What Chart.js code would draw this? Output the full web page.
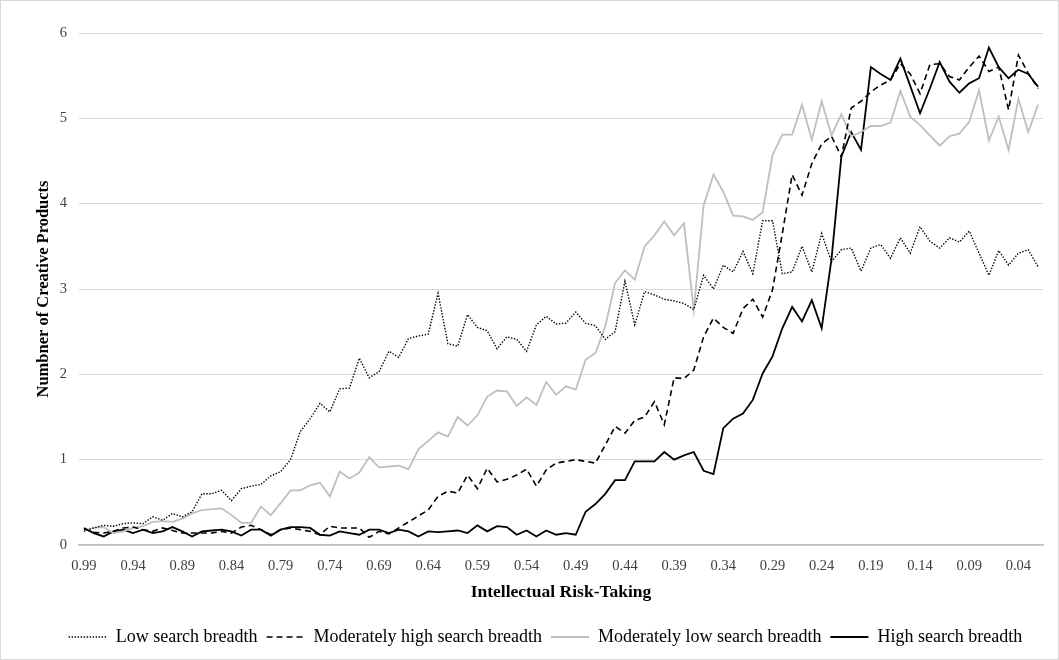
<!DOCTYPE html>
<html>
<head>
<meta charset="utf-8">
<title>Creative products by intellectual risk-taking</title>
<script src="https://cdn.jsdelivr.net/npm/chart.js@4.4.1/dist/chart.umd.min.js"></script>
<style>
  html, body { margin: 0; padding: 0; background: #fff; }
  #wrap { width: 1059px; height: 660px; position: relative; }
</style>
</head>
<body>
<div id="wrap"><canvas id="chart" width="1059" height="660"></canvas></div>
<script>
// Risk-taking levels, from 0.99 down to 0.02
const categories = [
  '0.99','0.98','0.97','0.96','0.95','0.94','0.93','0.92','0.91','0.90',
  '0.89','0.88','0.87','0.86','0.85','0.84','0.83','0.82','0.81','0.80',
  '0.79','0.78','0.77','0.76','0.75','0.74','0.73','0.72','0.71','0.70',
  '0.69','0.68','0.67','0.66','0.65','0.64','0.63','0.62','0.61','0.60',
  '0.59','0.58','0.57','0.56','0.55','0.54','0.53','0.52','0.51','0.50',
  '0.49','0.48','0.47','0.46','0.45','0.44','0.43','0.42','0.41','0.40',
  '0.39','0.38','0.37','0.36','0.35','0.34','0.33','0.32','0.31','0.30',
  '0.29','0.28','0.27','0.26','0.25','0.24','0.23','0.22','0.21','0.20',
  '0.19','0.18','0.17','0.16','0.15','0.14','0.13','0.12','0.11','0.10',
  '0.09','0.08','0.07','0.06','0.05','0.04','0.03','0.02'
];

// Every fifth level gets a label on the horizontal axis
const tickLabels = [
  '0.99','0.94','0.89','0.84','0.79','0.74','0.69','0.64','0.59','0.54',
  '0.49','0.44','0.39','0.34','0.29','0.24','0.19','0.14','0.09','0.04'
];

const yTicks = [0, 1, 2, 3, 4, 5, 6];

const lowBreadth = [
  0.16,0.20,0.23,0.22,0.25,0.26,0.25,0.33,0.29,0.37,
  0.33,0.39,0.60,0.60,0.64,0.52,0.66,0.69,0.71,0.81,
  0.86,1.00,1.33,1.48,1.66,1.56,1.83,1.84,2.19,1.96,
  2.03,2.27,2.20,2.42,2.45,2.47,2.95,2.36,2.33,2.70,
  2.55,2.51,2.30,2.44,2.41,2.27,2.58,2.68,2.59,2.60,
  2.73,2.60,2.57,2.41,2.50,3.09,2.58,2.97,2.93,2.88,
  2.86,2.83,2.76,3.16,3.00,3.28,3.20,3.44,3.18,3.80,
  3.80,3.18,3.20,3.50,3.20,3.65,3.32,3.46,3.48,3.21,
  3.48,3.52,3.36,3.60,3.42,3.73,3.56,3.48,3.60,3.55,
  3.68,3.42,3.16,3.45,3.28,3.42,3.46,3.26
];

const modHighBreadth = [
  0.19,0.15,0.14,0.16,0.20,0.21,0.18,0.16,0.20,0.17,
  0.14,0.14,0.14,0.14,0.16,0.14,0.21,0.23,0.18,0.12,
  0.18,0.20,0.18,0.16,0.12,0.22,0.20,0.20,0.20,0.09,
  0.16,0.13,0.20,0.27,0.34,0.41,0.57,0.63,0.61,0.82,
  0.66,0.90,0.74,0.77,0.82,0.89,0.69,0.88,0.96,0.98,
  1.00,0.98,0.96,1.17,1.39,1.31,1.46,1.50,1.68,1.41,
  1.96,1.95,2.05,2.44,2.66,2.55,2.48,2.77,2.88,2.67,
  2.99,3.65,4.34,4.10,4.47,4.70,4.79,4.55,5.12,5.20,
  5.31,5.39,5.45,5.64,5.52,5.29,5.63,5.64,5.49,5.45,
  5.60,5.73,5.55,5.60,5.10,5.74,5.53,5.35
];

const modLowBreadth = [
  0.17,0.20,0.21,0.14,0.16,0.20,0.22,0.27,0.28,0.27,
  0.31,0.37,0.41,0.42,0.43,0.35,0.26,0.26,0.45,0.35,
  0.49,0.64,0.64,0.70,0.73,0.57,0.86,0.78,0.85,1.03,
  0.91,0.92,0.93,0.89,1.12,1.22,1.32,1.27,1.50,1.40,
  1.52,1.74,1.81,1.80,1.63,1.73,1.64,1.91,1.76,1.86,
  1.82,2.17,2.25,2.56,3.07,3.22,3.11,3.50,3.63,3.79,
  3.63,3.77,2.75,3.98,4.34,4.14,3.86,3.85,3.81,3.90,
  4.57,4.81,4.81,5.16,4.75,5.20,4.80,5.05,4.79,4.84,
  4.91,4.91,4.95,5.32,5.02,4.92,4.80,4.68,4.79,4.82,
  4.96,5.33,4.74,5.02,4.63,5.23,4.84,5.16
];

const highBreadth = [
  0.20,0.14,0.10,0.16,0.18,0.14,0.18,0.14,0.16,0.21,
  0.16,0.10,0.16,0.17,0.18,0.16,0.11,0.18,0.18,0.11,
  0.18,0.21,0.21,0.20,0.12,0.11,0.16,0.14,0.12,0.18,
  0.18,0.14,0.18,0.16,0.10,0.16,0.15,0.16,0.17,0.14,
  0.23,0.16,0.22,0.21,0.12,0.17,0.10,0.17,0.12,0.14,
  0.12,0.39,0.48,0.60,0.76,0.76,0.98,0.98,0.98,1.09,
  1.00,1.05,1.09,0.87,0.83,1.37,1.48,1.54,1.70,2.01,
  2.21,2.54,2.79,2.62,2.87,2.54,3.35,4.55,4.84,4.63,
  5.60,5.52,5.45,5.70,5.38,5.06,5.35,5.66,5.43,5.30,
  5.41,5.47,5.83,5.60,5.47,5.57,5.52,5.37
];

const seriesNames = [
  'Low search breadth',
  'Moderately high search breadth',
  'Moderately low search breadth',
  'High search breadth'
];

const serif = '"Liberation Serif", "Times New Roman", serif';

// White background and thin frame around the whole chart
const framePlugin = {
  id: 'frame',
  beforeDraw(chart) {
    const { ctx, width, height } = chart;
    ctx.save();
    ctx.fillStyle = '#ffffff';
    ctx.fillRect(0, 0, width, height);
    ctx.restore();
  },
  afterDraw(chart) {
    const { ctx, width, height } = chart;
    ctx.save();
    ctx.strokeStyle = '#d9d9d9';
    ctx.lineWidth = 1;
    ctx.strokeRect(0.5, 0.5, width - 1, height - 1);
    ctx.restore();
  }
};

// Centre the legend row a little right of the canvas middle
const legendShift = 24;
const legendOffsetPlugin = {
  id: 'legendOffset',
  afterLayout(chart) {
    if (chart.legend) {
      chart.legend.left += legendShift;
      chart.legend.right += legendShift;
    }
  }
};

const common = { pointRadius: 0, pointHoverRadius: 0, tension: 0, fill: false, pointStyle: 'line' };

new Chart(document.getElementById('chart'), {
  type: 'line',
  data: {
    labels: categories,
    datasets: [
      Object.assign({ label: seriesNames[0], data: lowBreadth,
        borderColor: '#000000', borderWidth: 1.4, borderDash: [1.4, 1.6] }, common),
      Object.assign({ label: seriesNames[1], data: modHighBreadth,
        borderColor: '#000000', borderWidth: 1.6, borderDash: [6, 4] }, common),
      Object.assign({ label: seriesNames[2], data: modLowBreadth,
        borderColor: '#bfbfbf', borderWidth: 1.8 }, common),
      Object.assign({ label: seriesNames[3], data: highBreadth,
        borderColor: '#000000', borderWidth: 1.8 }, common)
    ]
  },
  options: {
    responsive: false,
    animation: false,
    devicePixelRatio: 1,
    layout: { padding: { top: 33, right: 16, bottom: 4, left: 0 } },
    plugins: {
      tooltip: { enabled: false },
      legend: {
        position: 'bottom',
        labels: {
          usePointStyle: true,
          pointStyle: 'line',
          pointStyleWidth: 38,
          boxHeight: 18,
          padding: 9,
          color: '#000000',
          font: { family: serif, size: 18 },
          // carry each series' dash pattern into its legend sample
          generateLabels(chart) {
            const items = Chart.defaults.plugins.legend.labels.generateLabels(chart);
            items.forEach((item) => {
              const ds = chart.data.datasets[item.datasetIndex];
              item.lineDash = ds.borderDash || [];
              item.lineWidth = ds.borderWidth;
              item.strokeStyle = ds.borderColor;
              item.fillStyle = ds.borderColor;
              item.pointStyle = 'line';
            });
            return items;
          }
        }
      }
    },
    scales: {
      x: {
        type: 'category',
        offset: true,
        grid: { display: false, drawTicks: false },
        border: { display: true, color: '#bfbfbf', width: 1.5 },
        ticks: {
          autoSkip: false,
          maxRotation: 0,
          minRotation: 0,
          padding: 12,
          color: '#404040',
          font: { family: serif, size: 14.5 },
          callback: (value, index) => tickLabels.includes(categories[index]) ? categories[index] : ''
        },
        title: {
          display: true,
          text: 'Intellectual Risk-Taking',
          color: '#000000',
          font: { family: serif, size: 17.5, weight: 'bold' },
          padding: { top: 0, bottom: 16 }
        },
        afterFit: (scale) => { scale.height = 74; }
      },
      y: {
        min: yTicks[0],
        max: yTicks[yTicks.length - 1],
        ticks: {
          stepSize: 1,
          padding: 12,
          color: '#404040',
          font: { family: serif, size: 14.5 }
        },
        grid: { color: '#d9d9d9', lineWidth: 1, drawTicks: false },
        border: { display: false },
        title: {
          display: true,
          text: 'Numbner of Creative Products',
          color: '#000000',
          font: { family: serif, size: 16.5, weight: 'bold' },
          padding: { top: 34, bottom: 0 }
        },
        afterFit: (scale) => { scale.width = 79; }
      }
    }
  },
  plugins: [framePlugin, legendOffsetPlugin]
});
</script>
</body>
</html>
